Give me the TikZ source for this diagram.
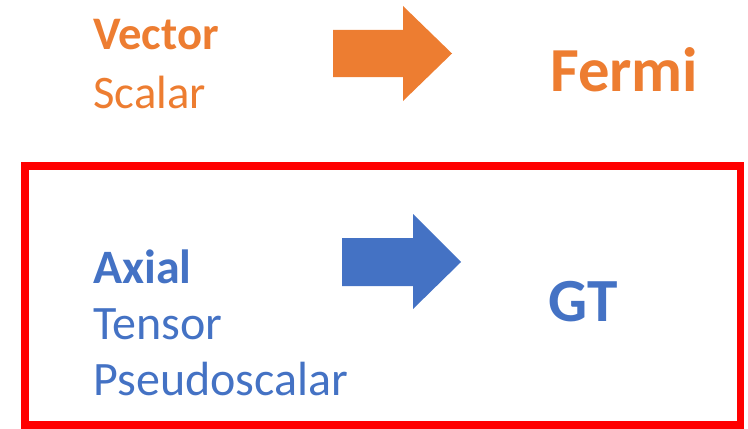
\documentclass[tikz,border=0pt]{standalone}
\usepackage{fontspec}
\setmainfont{Carlito}
\usepackage{tikz}

\definecolor{fermiorange}{HTML}{ED7D31}
\definecolor{gtblue}{HTML}{4472C4}

\begin{document}
\begin{tikzpicture}[x=0.75pt,y=-0.75pt]
                \tikzstyle{label}=[anchor=base west,inner sep=0pt]
                \tikzstyle{fermi}=[label,text=fermiorange]
                \tikzstyle{gt}=[label,text=gtblue]
                \useasboundingbox (0,0) rectangle (748,428);

                % upper row
                \node[fermi,font=\fontsize{35}{42}\selectfont\bfseries] (vector) at (93,50) {Vector};
                \node[fermi,font=\fontsize{35}{42}\selectfont] (scalar) at (93,108) {Scalar};
                \node[fermi,font=\fontsize{47}{56}\selectfont\bfseries] (fermi) at (550,91) {Fermi};
                \fill[fermiorange] (333,30) -- (403,30) -- (403,6) -- (452,53.5) -- (403,101) -- (403,77) -- (333,77) -- cycle;

                % lower row
                \draw[red,line width=5.6pt] (25,166) rectangle (740.5,425);
                \node[gt,font=\fontsize{36}{43}\selectfont\bfseries] (axial) at (93,283) {Axial};
                \foreach \name/\txt/\y in {tensor/Tensor/339, pseudo/Pseudoscalar/395}
                        \node[gt,font=\fontsize{36}{43}\selectfont] (\name) at (93,\y) {\txt};
                \node[gt,font=\fontsize{46}{55}\selectfont\bfseries] (gt) at (548,321) {GT};
                \fill[gtblue] (342,238) -- (413,238) -- (413,214) -- (461,262) -- (413,309) -- (413,286) -- (342,286) -- cycle;
            \end{tikzpicture}
\end{document}
